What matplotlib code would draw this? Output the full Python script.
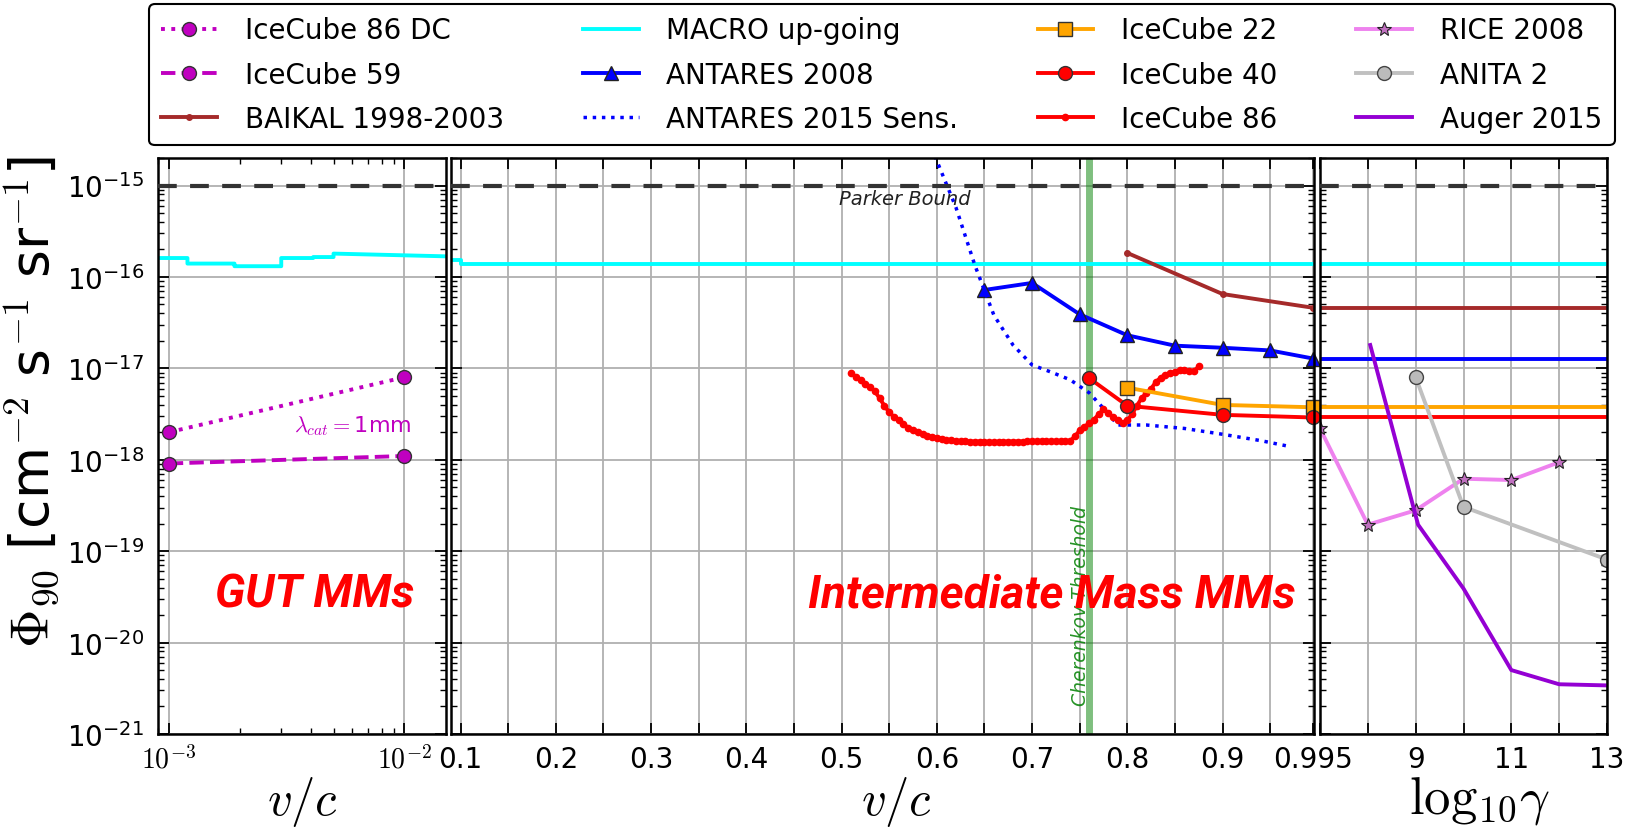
"""Magnetic monopole flux limits: GUT, intermediate mass and ultra-relativistic panels."""
import matplotlib
matplotlib.use("Agg")
import matplotlib.pyplot as plt
import numpy as np
from matplotlib.ticker import LogLocator, NullFormatter

plt.rcParams.update({
    "font.family": ["DejaVu Sans"],
    "mathtext.fontset": "dejavusans",
    "axes.linewidth": 1.8,
    "axes.edgecolor": "black",
    "xtick.direction": "in",
    "ytick.direction": "in",
    "xtick.top": True,
    "ytick.right": True,
    "xtick.major.size": 8,
    "ytick.major.size": 8,
    "xtick.minor.size": 4,
    "ytick.minor.size": 4,
    "xtick.major.width": 1.3,
    "ytick.major.width": 1.3,
    "xtick.minor.width": 1.0,
    "ytick.minor.width": 1.0,
    "xtick.labelsize": 20,
    "ytick.labelsize": 20,
    "grid.color": "#b0b0b0",
    "grid.linewidth": 1.3,
})

# ----- data -----
PARKER = 1e-15
YLIM = (1e-21, 2e-15)

# GUT panel, x = v/c (log)
ic86dc_beta = [1e-3, 1e-2]
ic86dc_flux = [2.0e-18, 8.0e-18]
ic59_beta = [1e-3, 1e-2]
ic59_flux = [9.1e-19, 1.1e-18]
macro_gut_beta = [9e-4, 1.2e-3, 1.2e-3, 1.9e-3, 1.9e-3, 3.0e-3, 3.0e-3, 4.1e-3, 4.1e-3,
                  5.0e-3, 5.0e-3, 1.5e-2]
macro_gut_flux = [1.61e-16, 1.61e-16, 1.40e-16, 1.40e-16, 1.31e-16, 1.31e-16, 1.61e-16,
                  1.61e-16, 1.65e-16, 1.65e-16, 1.80e-16, 1.68e-16]

# intermediate panel, x = v/c (linear)
macro_beta = [0.09, 0.1, 0.1, 0.995]
macro_flux = [1.55e-16, 1.55e-16, 1.40e-16, 1.40e-16]
baikal_beta = [0.80, 0.90, 0.995]
baikal_flux = [1.83e-16, 6.5e-17, 4.6e-17]
antares08_beta = [0.65, 0.70, 0.75, 0.80, 0.85, 0.90, 0.95, 0.995]
antares08_flux = [7.2e-17, 8.6e-17, 3.9e-17, 2.3e-17, 1.77e-17, 1.68e-17, 1.57e-17, 1.28e-17]
antares15_beta = [0.598, 0.620, 0.640, 0.660, 0.680, 0.700, 0.720, 0.740, 0.760, 0.780,
                  0.790, 0.820, 0.860, 0.900, 0.940, 0.970]
antares15_flux = [2.1e-15, 5.8e-16, 1.34e-16, 3.8e-17, 1.8e-17, 1.09e-17, 9.1e-18, 7.5e-18,
                  5.4e-18, 3.2e-18, 2.4e-18, 2.4e-18, 2.2e-18, 1.9e-18, 1.62e-18, 1.40e-18]
ic22_beta = [0.80, 0.90, 0.995]
ic22_flux = [6.15e-18, 3.98e-18, 3.75e-18]
ic40_beta = [0.76, 0.80, 0.90, 0.995]
ic40_flux = [7.8e-18, 3.9e-18, 3.1e-18, 2.9e-18]
# IceCube 86, sampled every 0.005 in v/c starting at 0.51 (units of 1e-18)
ic86_start, ic86_step = 0.51, 0.005
ic86_flux_e18 = [8.9, 8.1, 7.4, 6.8, 6.3, 5.6, 4.7, 3.9, 3.3, 2.95, 2.7, 2.45, 2.25, 2.1,
                 2.0, 1.91, 1.82, 1.78, 1.74, 1.70, 1.66, 1.64, 1.62, 1.60, 1.59, 1.58,
                 1.58, 1.58, 1.57, 1.57, 1.57, 1.57, 1.57, 1.58, 1.58, 1.58, 1.58, 1.59,
                 1.59, 1.59, 1.60, 1.60, 1.60, 1.60, 1.60, 1.61, 1.61, 1.80, 2.10, 2.30,
                 2.50, 2.75, 3.15, 3.55, 3.25, 2.90, 2.70, 2.50, 2.70, 3.15, 3.90, 4.70,
                 5.40, 6.00, 7.10, 7.90, 8.50, 8.90, 9.10, 9.50, 9.50, 9.30, 9.30, 10.5]
CHERENKOV = 0.76

# ultra-relativistic panel, x = log10(gamma)
rice_lg = [7.0, 8.0, 9.0, 10.0, 11.0, 12.0]
rice_flux = [2.2e-18, 1.95e-19, 2.8e-19, 6.2e-19, 6.0e-19, 9.4e-19]
anita_lg = [9.0, 10.0, 13.0]
anita_flux = [8.0e-18, 3.05e-19, 8.1e-20]
auger_lg = [8.05, 9.05, 10.0, 11.0, 12.0, 13.0]
auger_flux = [1.8e-17, 1.95e-19, 3.9e-20, 5.0e-21, 3.5e-21, 3.4e-21]
LG_RANGE = [7.0, 13.0]

# tick labels
gut_ticks = [1e-3, 1e-2]
gut_ticklabels = [r"$10^{-3}$", r"$10^{-2}$"]
mid_ticks = [0.1, 0.15, 0.2, 0.25, 0.3, 0.35, 0.4, 0.45, 0.5, 0.55, 0.6, 0.65, 0.7,
             0.75, 0.8, 0.85, 0.9, 0.95, 0.995]
mid_ticklabels = ["0.1", "", "0.2", "", "0.3", "", "0.4", "", "0.5", "", "0.6", "",
                  "0.7", "", "0.8", "", "0.9", "", "0.995"]
rel_ticks = [7, 8, 9, 10, 11, 12, 13]
rel_ticklabels = ["", "", "9", "", "11", "", "13"]
y_ticks = [1e-21, 1e-20, 1e-19, 1e-18, 1e-17, 1e-16, 1e-15]
y_ticklabels = [r"$10^{-21}$", r"$10^{-20}$", r"$10^{-19}$", r"$10^{-18}$",
                r"$10^{-17}$", r"$10^{-16}$", r"$10^{-15}$"]

# ----- figure -----
W, H = 1639, 829
fig = plt.figure(figsize=(W / 100, H / 100), dpi=100)


def px_axes(x0, x1, ytop=159, ybot=735):
    return fig.add_axes([x0 / W, (H - ybot) / H, (x1 - x0) / W, (ybot - ytop) / H])


ax_gut = px_axes(158, 446)
ax_mid = px_axes(451, 1314)
ax_rel = px_axes(1320, 1607)

MAG = "#c000c0"
lw = 2.8
BIG = dict(color="red", fontsize=33, fontweight="bold", fontstyle="italic",
           family=["Roboto", "DejaVu Sans"], ha="center", va="center", zorder=10)

for ax in (ax_gut, ax_mid, ax_rel):
    ax.set_yscale("log")
    ax.set_ylim(*YLIM)
    ax.set_yticks(y_ticks)
    ax.yaxis.set_minor_locator(LogLocator(base=10, subs=np.arange(2, 10)))
    ax.yaxis.set_minor_formatter(NullFormatter())
    ax.grid(True, which="major")
    ax.set_axisbelow(True)
    ax.axhline(PARKER, color="#333333", lw=3, dashes=(4.5, 3.2), zorder=3)
    ax.tick_params(axis="x", pad=8)
    ax.tick_params(axis="y", pad=10)

ax_gut.set_yticklabels(y_ticklabels)
ax_mid.set_yticklabels([])
ax_rel.set_yticklabels([])

# --- GUT panel ---
ax_gut.set_xscale("log")
ax_gut.set_xlim(9e-4, 1.5e-2)
ax_gut.plot(macro_gut_beta, macro_gut_flux, color="cyan", lw=lw)
h_ic86dc, = ax_gut.plot(ic86dc_beta, ic86dc_flux, ":", color=MAG, lw=lw, marker="o", ms=10,
                        mfc=MAG, mec="#333333", mew=1.0, label="IceCube 86 DC", clip_on=False)
h_ic59, = ax_gut.plot(ic59_beta, ic59_flux, "--", color=MAG, lw=lw, marker="o", ms=10,
                      mfc=MAG, mec="#333333", mew=1.0, label="IceCube 59", clip_on=False)
ax_gut.set_xticks(gut_ticks)
ax_gut.set_xticklabels(gut_ticklabels)
for t in ax_gut.get_xticklabels():
    t.set_math_fontfamily("cm")
ax_gut.xaxis.set_minor_locator(LogLocator(base=10, subs=np.arange(2, 10)))
ax_gut.xaxis.set_minor_formatter(NullFormatter())
ax_gut.text(1.07e-2, 2.4e-18, r"$\lambda_{cat}=$1mm", color=MAG, fontsize=16,
            ha="right", va="center", math_fontfamily="cm")
ax_gut.text(0.545, 0.243, "GUT MMs", transform=ax_gut.transAxes, **BIG)

# --- intermediate panel ---
ax_mid.set_xlim(0.09, 0.996)
h_macro, = ax_mid.plot(macro_beta, macro_flux, color="cyan", lw=lw, label="MACRO up-going")
h_baikal, = ax_mid.plot(baikal_beta, baikal_flux, color="brown", lw=lw, marker="o", ms=4,
                        label="BAIKAL 1998-2003")
h_ant08, = ax_mid.plot(antares08_beta, antares08_flux, color="blue", lw=lw, marker="^", ms=10,
                       mfc="blue", mec="#222222", mew=1.0, label="ANTARES 2008", clip_on=False)
h_ant15, = ax_mid.plot(antares15_beta, antares15_flux, ":", color="blue", lw=2.5,
                       label="ANTARES 2015 Sens.")
ic86_beta = ic86_start + ic86_step * np.arange(len(ic86_flux_e18))
h_ic86, = ax_mid.plot(ic86_beta, np.array(ic86_flux_e18) * 1e-18, color="red", lw=lw,
                      marker="o", ms=4.5, label="IceCube 86")
h_ic22, = ax_mid.plot(ic22_beta, ic22_flux, color="orange", lw=lw, marker="s", ms=10,
                      mfc="orange", mec="#333333", mew=1.0, label="IceCube 22", clip_on=False)
h_ic40, = ax_mid.plot(ic40_beta, ic40_flux, color="red", lw=lw, marker="o", ms=10,
                      mfc="red", mec="#333333", mew=1.0, label="IceCube 40", clip_on=False)
ax_mid.axvline(CHERENKOV, color="green", alpha=0.5, lw=5, zorder=1)
ax_mid.text(CHERENKOV - 0.009, 2.1e-21, "Cherenkov Threshold", rotation=90, color="green",
            alpha=0.85, fontsize=13.5, fontstyle="italic", ha="center", va="bottom")
ax_mid.text(0.566, 7.2e-16, "Parker Bound", fontsize=14, fontstyle="italic",
            color="#222222", ha="center", va="center")
ax_mid.set_xticks(mid_ticks)
ax_mid.set_xticklabels(mid_ticklabels)
ax_mid.text(0.696, 0.243, "Intermediate Mass MMs", transform=ax_mid.transAxes, **BIG)

# --- ultra-relativistic panel ---
ax_rel.set_xlim(*LG_RANGE)
for flux, col in ((macro_flux[-1], "cyan"), (baikal_flux[-1], "brown"),
                  (antares08_flux[-1], "blue"), (ic22_flux[-1], "orange"),
                  (ic40_flux[-1], "red")):
    ax_rel.plot(LG_RANGE, [flux, flux], color=col, lw=lw)
h_rice, = ax_rel.plot(rice_lg, rice_flux, color="violet", lw=lw, marker="*", ms=10,
                      mfc="#c070c0", mec="#222222", mew=0.8, label="RICE 2008")
h_anita, = ax_rel.plot(anita_lg, anita_flux, color="silver", lw=lw, marker="o", ms=10,
                       mfc="#bbbbbb", mec="#444444", mew=1.0, label="ANITA 2")
h_auger, = ax_rel.plot(auger_lg, auger_flux, color="darkviolet", lw=lw, label="Auger 2015")
ax_rel.set_xticks(rel_ticks)
ax_rel.set_xticklabels(rel_ticklabels)

# --- axis labels ---
for ax, lab, xc, fs in ((ax_gut, r"$v/c$", 0.5, 35), (ax_mid, r"$v/c$", 0.516, 35),
                        (ax_rel, r"$\mathrm{log}_{10}\gamma$", 0.555, 38)):
    ax.set_xlabel(lab, fontsize=fs, math_fontfamily="cm")
    ax.xaxis.set_label_coords(xc, -0.07)

fig.text(31 / W, 1 - 402 / H, r"$\Phi_{90}$ [cm$^{-2}$ s$^{-1}$ sr$^{-1}$]", rotation=90,
         fontsize=38.5, ha="center", va="center", math_fontfamily="cm")

# --- legend ---
handles = [h_ic86dc, h_ic59, h_baikal, h_macro, h_ant08, h_ant15,
           h_ic22, h_ic40, h_ic86, h_rice, h_anita, h_auger]
leg = fig.legend(handles, [h.get_label() for h in handles], ncol=4, loc="upper center",
                 bbox_to_anchor=(0.538, 0.994), fontsize=20, frameon=True, fancybox=True,
                 edgecolor="black", framealpha=1, handletextpad=1.0, columnspacing=2.85,
                 labelspacing=0.58, borderpad=0.45, borderaxespad=0)
leg.get_frame().set_linewidth(1.5)

fig.savefig("out.png", dpi=100)
